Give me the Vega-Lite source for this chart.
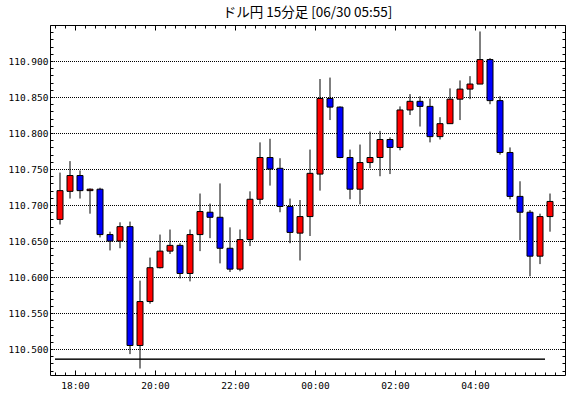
{
  "$schema": "https://vega.github.io/schema/vega-lite/v6.json",
  "width": 515,
  "height": 350,
  "autosize": {"type": "none"},
  "padding": {"left": 50, "top": 25, "right": 5, "bottom": 23},
  "background": "white",
  "title": {"text": "ドル円 15分足 [06/30 05:55]", "font": "Noto Sans CJK JP", "fontSize": 13.5, "fontWeight": "normal", "color": "black", "anchor": "middle", "offset": 5},
  "config": {"view": {"stroke": "black", "strokeWidth": 1}},
  "datasets": {
    "candles": [
      {"t": "2021-06-29T17:30:00", "o": 110.680, "h": 110.745, "l": 110.673, "c": 110.720},
      {"t": "2021-06-29T17:45:00", "o": 110.719, "h": 110.761, "l": 110.709, "c": 110.741},
      {"t": "2021-06-29T18:00:00", "o": 110.741, "h": 110.748, "l": 110.709, "c": 110.720},
      {"t": "2021-06-29T18:15:00", "o": 110.720, "h": 110.723, "l": 110.688, "c": 110.722},
      {"t": "2021-06-29T18:30:00", "o": 110.722, "h": 110.724, "l": 110.655, "c": 110.659},
      {"t": "2021-06-29T18:45:00", "o": 110.659, "h": 110.663, "l": 110.637, "c": 110.650},
      {"t": "2021-06-29T19:00:00", "o": 110.650, "h": 110.676, "l": 110.640, "c": 110.670},
      {"t": "2021-06-29T19:15:00", "o": 110.670, "h": 110.677, "l": 110.493, "c": 110.505},
      {"t": "2021-06-29T19:30:00", "o": 110.505, "h": 110.595, "l": 110.473, "c": 110.566},
      {"t": "2021-06-29T19:45:00", "o": 110.566, "h": 110.627, "l": 110.563, "c": 110.613},
      {"t": "2021-06-29T20:00:00", "o": 110.613, "h": 110.659, "l": 110.612, "c": 110.636},
      {"t": "2021-06-29T20:15:00", "o": 110.636, "h": 110.666, "l": 110.632, "c": 110.644},
      {"t": "2021-06-29T20:30:00", "o": 110.644, "h": 110.647, "l": 110.598, "c": 110.605},
      {"t": "2021-06-29T20:45:00", "o": 110.605, "h": 110.666, "l": 110.594, "c": 110.659},
      {"t": "2021-06-29T21:00:00", "o": 110.659, "h": 110.716, "l": 110.636, "c": 110.691},
      {"t": "2021-06-29T21:15:00", "o": 110.690, "h": 110.702, "l": 110.654, "c": 110.683},
      {"t": "2021-06-29T21:30:00", "o": 110.683, "h": 110.730, "l": 110.619, "c": 110.640},
      {"t": "2021-06-29T21:45:00", "o": 110.640, "h": 110.669, "l": 110.607, "c": 110.611},
      {"t": "2021-06-29T22:00:00", "o": 110.611, "h": 110.666, "l": 110.608, "c": 110.652},
      {"t": "2021-06-29T22:15:00", "o": 110.652, "h": 110.719, "l": 110.643, "c": 110.708},
      {"t": "2021-06-29T22:30:00", "o": 110.708, "h": 110.787, "l": 110.701, "c": 110.766},
      {"t": "2021-06-29T22:45:00", "o": 110.766, "h": 110.792, "l": 110.727, "c": 110.750},
      {"t": "2021-06-29T23:00:00", "o": 110.751, "h": 110.765, "l": 110.690, "c": 110.698},
      {"t": "2021-06-29T23:15:00", "o": 110.698, "h": 110.709, "l": 110.647, "c": 110.662},
      {"t": "2021-06-29T23:30:00", "o": 110.661, "h": 110.707, "l": 110.623, "c": 110.684},
      {"t": "2021-06-29T23:45:00", "o": 110.684, "h": 110.777, "l": 110.657, "c": 110.744},
      {"t": "2021-06-30T00:00:00", "o": 110.743, "h": 110.875, "l": 110.720, "c": 110.848},
      {"t": "2021-06-30T00:15:00", "o": 110.848, "h": 110.877, "l": 110.818, "c": 110.836},
      {"t": "2021-06-30T00:30:00", "o": 110.836, "h": 110.837, "l": 110.765, "c": 110.766},
      {"t": "2021-06-30T00:45:00", "o": 110.766, "h": 110.777, "l": 110.708, "c": 110.722},
      {"t": "2021-06-30T01:00:00", "o": 110.722, "h": 110.784, "l": 110.701, "c": 110.759},
      {"t": "2021-06-30T01:15:00", "o": 110.759, "h": 110.802, "l": 110.751, "c": 110.766},
      {"t": "2021-06-30T01:30:00", "o": 110.766, "h": 110.803, "l": 110.740, "c": 110.791},
      {"t": "2021-06-30T01:45:00", "o": 110.791, "h": 110.794, "l": 110.743, "c": 110.780},
      {"t": "2021-06-30T02:00:00", "o": 110.780, "h": 110.837, "l": 110.776, "c": 110.832},
      {"t": "2021-06-30T02:15:00", "o": 110.832, "h": 110.854, "l": 110.825, "c": 110.844},
      {"t": "2021-06-30T02:30:00", "o": 110.844, "h": 110.851, "l": 110.809, "c": 110.837},
      {"t": "2021-06-30T02:45:00", "o": 110.837, "h": 110.848, "l": 110.787, "c": 110.795},
      {"t": "2021-06-30T03:00:00", "o": 110.795, "h": 110.822, "l": 110.791, "c": 110.813},
      {"t": "2021-06-30T03:15:00", "o": 110.813, "h": 110.862, "l": 110.813, "c": 110.847},
      {"t": "2021-06-30T03:30:00", "o": 110.847, "h": 110.873, "l": 110.818, "c": 110.861},
      {"t": "2021-06-30T03:45:00", "o": 110.861, "h": 110.879, "l": 110.847, "c": 110.868},
      {"t": "2021-06-30T04:00:00", "o": 110.868, "h": 110.941, "l": 110.868, "c": 110.902},
      {"t": "2021-06-30T04:15:00", "o": 110.902, "h": 110.904, "l": 110.840, "c": 110.845},
      {"t": "2021-06-30T04:30:00", "o": 110.845, "h": 110.851, "l": 110.770, "c": 110.773},
      {"t": "2021-06-30T04:45:00", "o": 110.773, "h": 110.780, "l": 110.708, "c": 110.712},
      {"t": "2021-06-30T05:00:00", "o": 110.712, "h": 110.733, "l": 110.651, "c": 110.690},
      {"t": "2021-06-30T05:15:00", "o": 110.690, "h": 110.693, "l": 110.601, "c": 110.629},
      {"t": "2021-06-30T05:30:00", "o": 110.629, "h": 110.688, "l": 110.618, "c": 110.684},
      {"t": "2021-06-30T05:45:00", "o": 110.684, "h": 110.716, "l": 110.663, "c": 110.705}
    ],
    "level": [
      {"t1": "2021-06-29T17:30:00", "t2": "2021-06-30T05:45:00", "v": 110.486}
    ]
  },
  "resolve": {"axis": {"x": "independent", "y": "independent"}},
  "layer": [
    {
      "data": {"name": "candles"},
      "mark": {"type": "rule", "color": "black", "strokeWidth": 1, "xOffset": 5},
      "encoding": {
        "x": {
          "field": "t", "type": "temporal",
          "scale": {"nice": false, "padding": 0, "domain": [{"year": 2021, "month": 6, "date": 29, "hours": 17, "minutes": 22, "seconds": 30}, {"year": 2021, "month": 6, "date": 30, "hours": 6, "minutes": 15}]},
          "axis": {"orient": "bottom", "offset": -5, "title": null, "ticks": true, "tickSize": 5, "tickColor": "black", "domain": false, "grid": false, "format": "%H:%M", "values": [{"year": 2021, "month": 6, "date": 29, "hours": 18}, {"year": 2021, "month": 6, "date": 29, "hours": 20}, {"year": 2021, "month": 6, "date": 29, "hours": 22}, {"year": 2021, "month": 6, "date": 30, "hours": 0}, {"year": 2021, "month": 6, "date": 30, "hours": 2}, {"year": 2021, "month": 6, "date": 30, "hours": 4}], "labelPadding": 5, "labelFont": "DejaVu Sans Mono", "labelFontSize": 9.5, "labelColor": "black", "labelOverlap": false, "labelFlush": false}
        },
        "y": {
          "field": "l", "type": "quantitative",
          "scale": {"domain": [110.464, 110.95], "nice": false, "zero": false},
          "axis": {"orient": "left", "title": null, "ticks": false, "domain": false, "grid": true, "gridColor": "black", "gridDash": [1, 1], "gridDashOffset": 0.5, "gridWidth": 1, "gridOpacity": 1, "values": [110.5, 110.55, 110.6, 110.65, 110.7, 110.75, 110.8, 110.85, 110.9], "format": ".3f", "labelPadding": 2, "labelFont": "DejaVu Sans Mono", "labelFontSize": 9.5, "labelColor": "black"}
        },
        "y2": {"field": "h"}
      }
    },
    {
      "data": {"name": "candles"},
      "mark": {"type": "bar", "size": 6, "stroke": "black", "strokeWidth": 1, "xOffset": 5},
      "encoding": {
        "x": {
          "field": "t", "type": "temporal",
          "axis": {"orient": "bottom", "offset": -3, "title": null, "labels": false, "domain": false, "grid": false, "ticks": true, "tickSize": 3, "tickColor": "black",
            "values": [
              {"year": 2021, "month": 6, "date": 29, "hours": 17, "minutes": 30}, {"year": 2021, "month": 6, "date": 29, "hours": 17, "minutes": 45},
              {"year": 2021, "month": 6, "date": 29, "hours": 18, "minutes": 0}, {"year": 2021, "month": 6, "date": 29, "hours": 18, "minutes": 15}, {"year": 2021, "month": 6, "date": 29, "hours": 18, "minutes": 30}, {"year": 2021, "month": 6, "date": 29, "hours": 18, "minutes": 45},
              {"year": 2021, "month": 6, "date": 29, "hours": 19, "minutes": 0}, {"year": 2021, "month": 6, "date": 29, "hours": 19, "minutes": 15}, {"year": 2021, "month": 6, "date": 29, "hours": 19, "minutes": 30}, {"year": 2021, "month": 6, "date": 29, "hours": 19, "minutes": 45},
              {"year": 2021, "month": 6, "date": 29, "hours": 20, "minutes": 0}, {"year": 2021, "month": 6, "date": 29, "hours": 20, "minutes": 15}, {"year": 2021, "month": 6, "date": 29, "hours": 20, "minutes": 30}, {"year": 2021, "month": 6, "date": 29, "hours": 20, "minutes": 45},
              {"year": 2021, "month": 6, "date": 29, "hours": 21, "minutes": 0}, {"year": 2021, "month": 6, "date": 29, "hours": 21, "minutes": 15}, {"year": 2021, "month": 6, "date": 29, "hours": 21, "minutes": 30}, {"year": 2021, "month": 6, "date": 29, "hours": 21, "minutes": 45},
              {"year": 2021, "month": 6, "date": 29, "hours": 22, "minutes": 0}, {"year": 2021, "month": 6, "date": 29, "hours": 22, "minutes": 15}, {"year": 2021, "month": 6, "date": 29, "hours": 22, "minutes": 30}, {"year": 2021, "month": 6, "date": 29, "hours": 22, "minutes": 45},
              {"year": 2021, "month": 6, "date": 29, "hours": 23, "minutes": 0}, {"year": 2021, "month": 6, "date": 29, "hours": 23, "minutes": 15}, {"year": 2021, "month": 6, "date": 29, "hours": 23, "minutes": 30}, {"year": 2021, "month": 6, "date": 29, "hours": 23, "minutes": 45},
              {"year": 2021, "month": 6, "date": 30, "hours": 0, "minutes": 0}, {"year": 2021, "month": 6, "date": 30, "hours": 0, "minutes": 15}, {"year": 2021, "month": 6, "date": 30, "hours": 0, "minutes": 30}, {"year": 2021, "month": 6, "date": 30, "hours": 0, "minutes": 45},
              {"year": 2021, "month": 6, "date": 30, "hours": 1, "minutes": 0}, {"year": 2021, "month": 6, "date": 30, "hours": 1, "minutes": 15}, {"year": 2021, "month": 6, "date": 30, "hours": 1, "minutes": 30}, {"year": 2021, "month": 6, "date": 30, "hours": 1, "minutes": 45},
              {"year": 2021, "month": 6, "date": 30, "hours": 2, "minutes": 0}, {"year": 2021, "month": 6, "date": 30, "hours": 2, "minutes": 15}, {"year": 2021, "month": 6, "date": 30, "hours": 2, "minutes": 30}, {"year": 2021, "month": 6, "date": 30, "hours": 2, "minutes": 45},
              {"year": 2021, "month": 6, "date": 30, "hours": 3, "minutes": 0}, {"year": 2021, "month": 6, "date": 30, "hours": 3, "minutes": 15}, {"year": 2021, "month": 6, "date": 30, "hours": 3, "minutes": 30}, {"year": 2021, "month": 6, "date": 30, "hours": 3, "minutes": 45},
              {"year": 2021, "month": 6, "date": 30, "hours": 4, "minutes": 0}, {"year": 2021, "month": 6, "date": 30, "hours": 4, "minutes": 15}, {"year": 2021, "month": 6, "date": 30, "hours": 4, "minutes": 30}, {"year": 2021, "month": 6, "date": 30, "hours": 4, "minutes": 45},
              {"year": 2021, "month": 6, "date": 30, "hours": 5, "minutes": 0}, {"year": 2021, "month": 6, "date": 30, "hours": 5, "minutes": 15}, {"year": 2021, "month": 6, "date": 30, "hours": 5, "minutes": 30}, {"year": 2021, "month": 6, "date": 30, "hours": 5, "minutes": 45},
              {"year": 2021, "month": 6, "date": 30, "hours": 6, "minutes": 0}
            ]}
        },
        "y": {
          "field": "o", "type": "quantitative",
          "axis": {"orient": "left", "offset": -3, "title": null, "labels": false, "domain": false, "grid": false, "ticks": true, "tickSize": 3, "tickColor": "black", "tickCount": 50}
        },
        "y2": {"field": "c"},
        "fill": {"condition": {"test": "datum.c >= datum.o", "value": "#ff0000"}, "value": "#0000ff"}
      }
    },
    {
      "data": {"name": "level"},
      "mark": {"type": "rule", "color": "black", "strokeWidth": 1},
      "encoding": {
        "x": {
          "field": "t1", "type": "temporal",
          "axis": {"orient": "top", "offset": -3, "title": null, "labels": false, "domain": false, "grid": false, "ticks": true, "tickSize": 3, "tickColor": "black",
            "values": [
              {"year": 2021, "month": 6, "date": 29, "hours": 17, "minutes": 30}, {"year": 2021, "month": 6, "date": 29, "hours": 17, "minutes": 45},
              {"year": 2021, "month": 6, "date": 29, "hours": 18, "minutes": 0}, {"year": 2021, "month": 6, "date": 29, "hours": 18, "minutes": 15}, {"year": 2021, "month": 6, "date": 29, "hours": 18, "minutes": 30}, {"year": 2021, "month": 6, "date": 29, "hours": 18, "minutes": 45},
              {"year": 2021, "month": 6, "date": 29, "hours": 19, "minutes": 0}, {"year": 2021, "month": 6, "date": 29, "hours": 19, "minutes": 15}, {"year": 2021, "month": 6, "date": 29, "hours": 19, "minutes": 30}, {"year": 2021, "month": 6, "date": 29, "hours": 19, "minutes": 45},
              {"year": 2021, "month": 6, "date": 29, "hours": 20, "minutes": 0}, {"year": 2021, "month": 6, "date": 29, "hours": 20, "minutes": 15}, {"year": 2021, "month": 6, "date": 29, "hours": 20, "minutes": 30}, {"year": 2021, "month": 6, "date": 29, "hours": 20, "minutes": 45},
              {"year": 2021, "month": 6, "date": 29, "hours": 21, "minutes": 0}, {"year": 2021, "month": 6, "date": 29, "hours": 21, "minutes": 15}, {"year": 2021, "month": 6, "date": 29, "hours": 21, "minutes": 30}, {"year": 2021, "month": 6, "date": 29, "hours": 21, "minutes": 45},
              {"year": 2021, "month": 6, "date": 29, "hours": 22, "minutes": 0}, {"year": 2021, "month": 6, "date": 29, "hours": 22, "minutes": 15}, {"year": 2021, "month": 6, "date": 29, "hours": 22, "minutes": 30}, {"year": 2021, "month": 6, "date": 29, "hours": 22, "minutes": 45},
              {"year": 2021, "month": 6, "date": 29, "hours": 23, "minutes": 0}, {"year": 2021, "month": 6, "date": 29, "hours": 23, "minutes": 15}, {"year": 2021, "month": 6, "date": 29, "hours": 23, "minutes": 30}, {"year": 2021, "month": 6, "date": 29, "hours": 23, "minutes": 45},
              {"year": 2021, "month": 6, "date": 30, "hours": 0, "minutes": 0}, {"year": 2021, "month": 6, "date": 30, "hours": 0, "minutes": 15}, {"year": 2021, "month": 6, "date": 30, "hours": 0, "minutes": 30}, {"year": 2021, "month": 6, "date": 30, "hours": 0, "minutes": 45},
              {"year": 2021, "month": 6, "date": 30, "hours": 1, "minutes": 0}, {"year": 2021, "month": 6, "date": 30, "hours": 1, "minutes": 15}, {"year": 2021, "month": 6, "date": 30, "hours": 1, "minutes": 30}, {"year": 2021, "month": 6, "date": 30, "hours": 1, "minutes": 45},
              {"year": 2021, "month": 6, "date": 30, "hours": 2, "minutes": 0}, {"year": 2021, "month": 6, "date": 30, "hours": 2, "minutes": 15}, {"year": 2021, "month": 6, "date": 30, "hours": 2, "minutes": 30}, {"year": 2021, "month": 6, "date": 30, "hours": 2, "minutes": 45},
              {"year": 2021, "month": 6, "date": 30, "hours": 3, "minutes": 0}, {"year": 2021, "month": 6, "date": 30, "hours": 3, "minutes": 15}, {"year": 2021, "month": 6, "date": 30, "hours": 3, "minutes": 30}, {"year": 2021, "month": 6, "date": 30, "hours": 3, "minutes": 45},
              {"year": 2021, "month": 6, "date": 30, "hours": 4, "minutes": 0}, {"year": 2021, "month": 6, "date": 30, "hours": 4, "minutes": 15}, {"year": 2021, "month": 6, "date": 30, "hours": 4, "minutes": 30}, {"year": 2021, "month": 6, "date": 30, "hours": 4, "minutes": 45},
              {"year": 2021, "month": 6, "date": 30, "hours": 5, "minutes": 0}, {"year": 2021, "month": 6, "date": 30, "hours": 5, "minutes": 15}, {"year": 2021, "month": 6, "date": 30, "hours": 5, "minutes": 30}, {"year": 2021, "month": 6, "date": 30, "hours": 5, "minutes": 45},
              {"year": 2021, "month": 6, "date": 30, "hours": 6, "minutes": 0}
            ]}
        },
        "x2": {"field": "t2"},
        "y": {
          "field": "v", "type": "quantitative",
          "axis": {"orient": "right", "offset": -3, "title": null, "labels": false, "domain": false, "grid": false, "ticks": true, "tickSize": 3, "tickColor": "black", "tickCount": 50}
        }
      }
    },
    {
      "data": {"name": "level"},
      "mark": {"type": "rule", "color": "black", "strokeWidth": 1},
      "encoding": {
        "x": {
          "field": "t1", "type": "temporal",
          "axis": {"orient": "top", "offset": -5, "title": null, "labels": false, "domain": false, "grid": false, "ticks": true, "tickSize": 5, "tickColor": "black", "values": [{"year": 2021, "month": 6, "date": 29, "hours": 18}, {"year": 2021, "month": 6, "date": 29, "hours": 20}, {"year": 2021, "month": 6, "date": 29, "hours": 22}, {"year": 2021, "month": 6, "date": 30, "hours": 0}, {"year": 2021, "month": 6, "date": 30, "hours": 2}, {"year": 2021, "month": 6, "date": 30, "hours": 4}]}
        },
        "x2": {"field": "t2"},
        "y": {
          "field": "v", "type": "quantitative",
          "axis": {"orient": "right", "offset": -5, "title": null, "labels": false, "domain": false, "grid": false, "ticks": true, "tickSize": 5, "tickColor": "black", "values": [110.5, 110.55, 110.6, 110.65, 110.7, 110.75, 110.8, 110.85, 110.9]}
        }
      }
    }
  ]
}
